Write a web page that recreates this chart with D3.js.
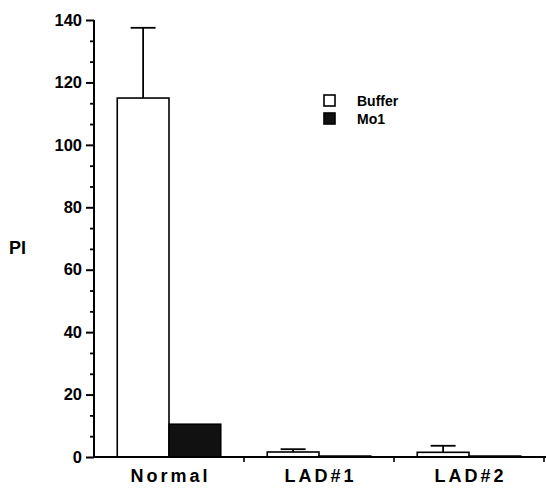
<!DOCTYPE html>
<html><head><meta charset="utf-8">
<script src="https://cdn.jsdelivr.net/npm/d3@7"></script>
<style>body{margin:0;background:#fff}svg{display:block}text{font-family:"Liberation Sans",Arial,sans-serif;font-weight:bold;fill:#000}</style>
</head><body>
<script>
const categories = ["Normal", "LAD#1", "LAD#2"];
const seriesNames = ["Buffer", "Mo1"];
const bufferValues = [115, 1.6, 1.5];
const bufferErrors = [22.5, 0.9, 2.1];
const mo1Values = [10.5, 0.3, 0.3];
const yTicks = [0, 20, 40, 60, 80, 100, 120, 140];

const W = 546, H = 489;
const svg = d3.select("body").append("svg").attr("width", W).attr("height", H);

const x0 = 94, x1 = 544, yTop = 20, yBot = 457;
const x = d3.scaleBand().domain(categories).range([x0, x1]).paddingInner(0.31).paddingOuter(0.155);
const xs = d3.scaleBand().domain(seriesNames).range([0, x.bandwidth()]);
const y = d3.scaleLinear().domain([0, 140]).range([yBot, yTop]);

const data = categories.map((c, i) => ({c, vals: [
  {s: "Buffer", v: bufferValues[i], e: bufferErrors[i]},
  {s: "Mo1", v: mo1Values[i], e: 0}
]}));

// bars
const g = svg.append("g");
data.forEach(d => {
  d.vals.forEach(b => {
    const bx = x(d.c) + xs(b.s);
    g.append("rect").attr("x", bx).attr("y", y(b.v)).attr("width", xs.bandwidth()).attr("height", y(0) - y(b.v))
      .attr("fill", b.s === "Buffer" ? "#fff" : "#111").attr("stroke", "#000").attr("stroke-width", 1.6);
    if (b.e > 0) {
      const cx = bx + xs.bandwidth() / 2;
      g.append("line").attr("x1", cx).attr("x2", cx).attr("y1", y(b.v)).attr("y2", y(b.v + b.e)).attr("stroke", "#000").attr("stroke-width", 1.8);
      g.append("line").attr("x1", cx - 12.5).attr("x2", cx + 12.5).attr("y1", y(b.v + b.e)).attr("y2", y(b.v + b.e)).attr("stroke", "#000").attr("stroke-width", 1.8);
    }
  });
});

// y axis
const yAxis = svg.append("g").attr("transform", `translate(${x0},0)`)
  .call(d3.axisLeft(y).tickValues(yTicks).tickSize(8).tickPadding(4).tickFormat(d3.format("d")));
yAxis.select(".domain").attr("stroke-width", 2).attr("d", `M0,${yTop}V${yBot}`);
yAxis.selectAll(".tick line").attr("stroke-width", 2);
yAxis.selectAll(".tick text").style("font-size", "16.5px").style("font-family", "'Liberation Sans',Arial,sans-serif").style("font-weight", "bold");
const minor = [];
for (let i = 0; i < 7; i++) { minor.push(i * 20 + 20 / 3, i * 20 + 40 / 3); }
svg.append("g").attr("transform", `translate(${x0},0)`)
  .call(d3.axisLeft(y).tickValues(minor).tickSize(4).tickFormat(""))
  .call(s => s.select(".domain").remove())
  .selectAll(".tick line").attr("stroke-width", 1.8);

// x axis
svg.append("line").attr("x1", x0 - 1).attr("x2", W).attr("y1", yBot).attr("y2", yBot).attr("stroke", "#000").attr("stroke-width", 2);
const step = x.step();
categories.forEach((c, i) => {
  const tx = x0 + step * (i + 1);
  svg.append("line").attr("x1", tx).attr("x2", tx).attr("y1", yBot).attr("y2", yBot + 5).attr("stroke", "#000").attr("stroke-width", 1.6);
  svg.append("text").attr("x", x(c) + x.bandwidth() / 2 + 1.5).attr("y", 482).attr("text-anchor", "middle")
    .style("font-size", "18px").style("letter-spacing", "3px").text(c);
});

// y label
svg.append("text").attr("x", 9).attr("y", 254).style("font-size", "18px").text("PI");

// legend
const leg = svg.append("g").attr("transform", "translate(324,95)");
seriesNames.forEach((s, i) => {
  leg.append("rect").attr("x", 0).attr("y", i * 18).attr("width", 11).attr("height", 11)
    .attr("fill", s === "Buffer" ? "#fff" : "#111").attr("stroke", "#000").attr("stroke-width", 1.6);
  leg.append("text").attr("x", 33).attr("y", i * 18 + 11).style("font-size", "14px").text(s);
});
</script>
</body></html>
